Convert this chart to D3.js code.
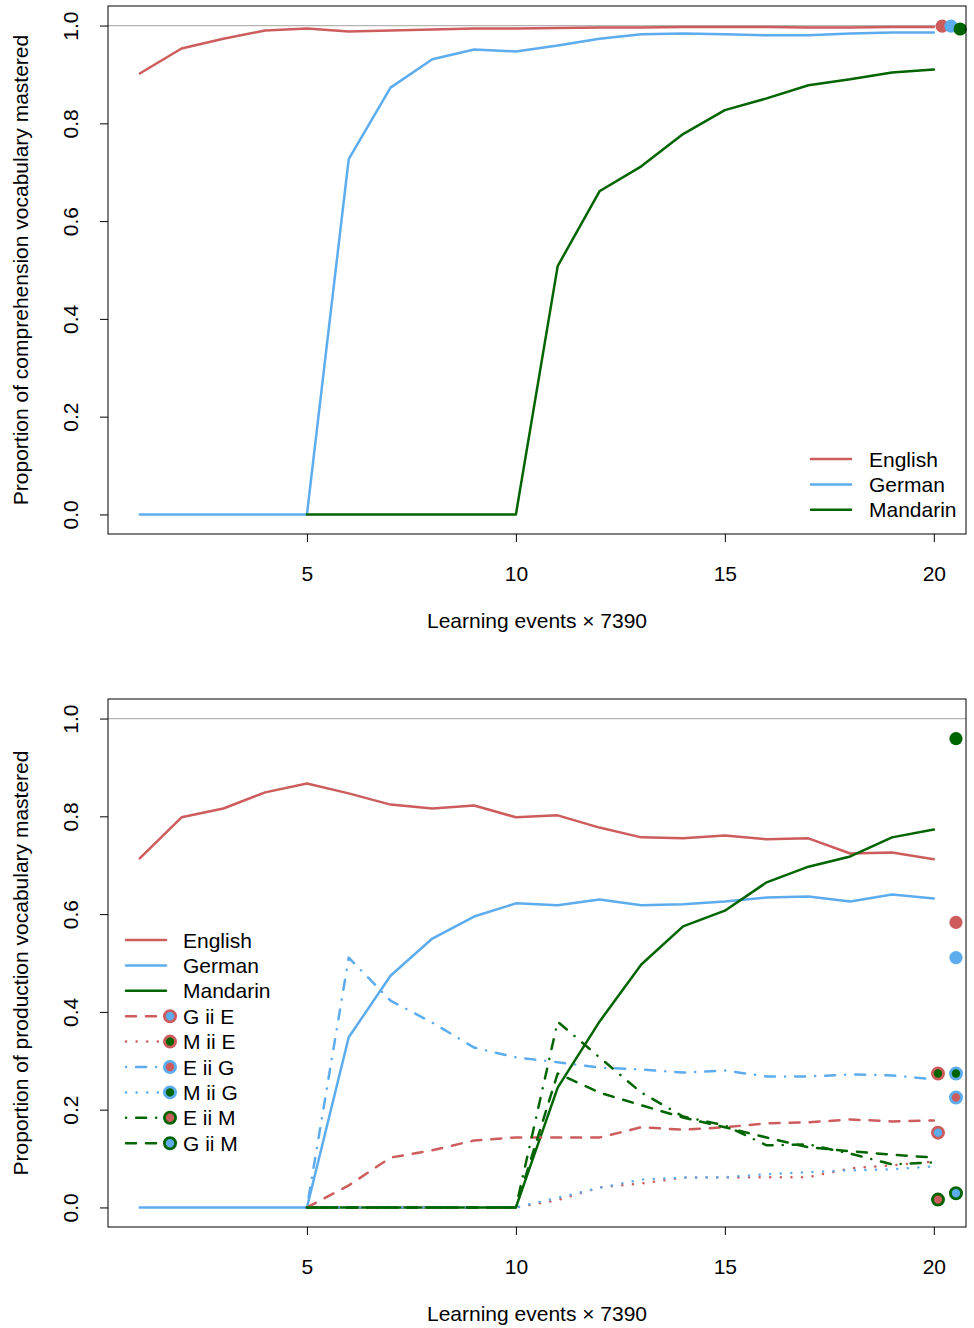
<!DOCTYPE html>
<html>
<head>
<meta charset="utf-8">
<script src="https://cdn.jsdelivr.net/npm/d3@7"></script>
<style>
  body { margin: 0; background: #fff; }
  svg { display: block; font-family: "Liberation Sans", Arial, sans-serif; }
</style>
</head>
<body>
<svg id="chart" width="974" height="1328"></svg>
<script>
// learning events (x axis, in units of 7390)
const events = [1, 2, 3, 4, 5, 6, 7, 8, 9, 10, 11, 12, 13, 14, 15, 16, 17, 18, 19, 20];
const yTicks = [0, 0.2, 0.4, 0.6, 0.8, 1.0];
const xTicks = [5, 10, 15, 20];

// comprehension (top panel)
const compEnglish = [0.902, 0.953, 0.973, 0.990, 0.994, 0.988, 0.990, 0.992, 0.994, 0.994, 0.995, 0.996, 0.996, 0.997, 0.997, 0.997, 0.996, 0.996, 0.997, 0.997];
const compGerman = [0, 0, 0, 0, 0, 0.727, 0.873, 0.931, 0.951, 0.947, 0.959, 0.973, 0.982, 0.984, 0.982, 0.980, 0.980, 0.984, 0.986, 0.986];
const compMandarin = [null, null, null, null, 0, 0, 0, 0, 0, 0, 0.508, 0.661, 0.712, 0.778, 0.827, 0.851, 0.878, 0.890, 0.904, 0.910];
const compFinal = [
  { x: 20.2, y: 0.999, lang: "E" },
  { x: 20.41, y: 0.999, lang: "G" },
  { x: 20.63, y: 0.993, lang: "M" }
];

// production (bottom panel)
const prodEnglish = [0.714, 0.798, 0.816, 0.849, 0.867, 0.847, 0.824, 0.816, 0.822, 0.798, 0.802, 0.777, 0.757, 0.755, 0.761, 0.753, 0.755, 0.724, 0.726, 0.712];
const prodGerman = [0, 0, 0, 0, 0, 0.348, 0.474, 0.550, 0.595, 0.622, 0.618, 0.630, 0.618, 0.620, 0.626, 0.634, 0.636, 0.626, 0.640, 0.632];
const prodMandarin = [null, null, null, null, 0, 0, 0, 0, 0, 0, 0.245, 0.380, 0.497, 0.575, 0.607, 0.665, 0.697, 0.718, 0.757, 0.773];
const GiiE = [null, null, null, null, 0, 0.045, 0.102, 0.117, 0.137, 0.143, 0.143, 0.143, 0.164, 0.159, 0.164, 0.172, 0.174, 0.180, 0.176, 0.178];
const MiiE = [null, null, null, null, 0, 0, 0, 0, 0, 0, 0.015, 0.041, 0.049, 0.061, 0.061, 0.062, 0.062, 0.080, 0.086, 0.094];
const EiiG = [null, null, null, null, 0, 0.511, 0.423, 0.378, 0.327, 0.307, 0.297, 0.286, 0.282, 0.276, 0.280, 0.268, 0.268, 0.272, 0.270, 0.262];
const MiiG = [null, null, null, null, 0, 0, 0, 0, 0, 0, 0.020, 0.040, 0.057, 0.061, 0.062, 0.068, 0.072, 0.076, 0.078, 0.084];
const EiiM = [null, null, null, null, 0, 0, 0, 0, 0, 0, 0.380, 0.307, 0.235, 0.186, 0.168, 0.127, 0.129, 0.110, 0.088, 0.092];
const GiiM = [null, null, null, null, 0, 0, 0, 0, 0, 0, 0.274, 0.235, 0.209, 0.184, 0.164, 0.143, 0.123, 0.115, 0.108, 0.102];
const prodFinal = [
  { x: 20.53, y: 0.959, lang: "M" },
  { x: 20.53, y: 0.583, lang: "E" },
  { x: 20.53, y: 0.511, lang: "G" },
  { x: 20.1, y: 0.274, ring: "E", fill: "M" },
  { x: 20.53, y: 0.274, ring: "G", fill: "M" },
  { x: 20.53, y: 0.225, ring: "G", fill: "E" },
  { x: 20.1, y: 0.153, ring: "E", fill: "G" },
  { x: 20.1, y: 0.016, ring: "M", fill: "E" },
  { x: 20.53, y: 0.029, ring: "M", fill: "G" }
];

const colors = { E: "#cd5c5c", G: "#5cacee", M: "#006400" };
const dashes = { solid: null, dashed: "10,10", dotted: "0.1,10.5", dotdash: "0.1,10,10,10" };
const LW = 2.5;
const FS = 21;

const svg = d3.select("#chart");

function panel(top, yTitle, series, finals, legend) {
  const left = 108, right = 966, bottom = top + 528;
  const x = d3.scaleLinear().domain([0.24, 20.77]).range([left, right]);
  const y = d3.scaleLinear().domain([-0.04, 1.04]).range([bottom, top]);
  const g = svg.append("g");

  // reference line at 1.0
  g.append("line")
    .attr("x1", left).attr("x2", right)
    .attr("y1", y(1)).attr("y2", y(1))
    .attr("stroke", "#b3b3b3").attr("stroke-width", 1.2);

  const line = d3.line()
    .defined(d => d[1] != null)
    .x(d => x(d[0])).y(d => y(d[1]));

  series.forEach(s => {
    g.append("path")
      .attr("d", line(events.map((e, i) => [e, s.values[i]])))
      .attr("fill", "none")
      .attr("stroke", colors[s.lang])
      .attr("stroke-width", LW)
      .attr("stroke-linecap", "round")
      .attr("stroke-linejoin", "round")
      .attr("stroke-dasharray", dashes[s.type]);
  });

  finals.forEach(p => {
    if (p.ring) {
      g.append("circle")
        .attr("cx", x(p.x)).attr("cy", y(p.y)).attr("r", 5.6)
        .attr("fill", colors[p.fill])
        .attr("stroke", colors[p.ring]).attr("stroke-width", 2.8);
    } else {
      g.append("circle")
        .attr("cx", x(p.x)).attr("cy", y(p.y)).attr("r", 6.6)
        .attr("fill", colors[p.lang]);
    }
  });

  // box
  g.append("rect")
    .attr("x", left).attr("y", top)
    .attr("width", right - left).attr("height", bottom - top)
    .attr("fill", "none").attr("stroke", "#000").attr("stroke-width", 1);

  // axes
  const ax = g.append("g").attr("transform", `translate(0,${bottom})`)
    .call(d3.axisBottom(x).tickValues(xTicks).tickFormat(d3.format("d")).tickSize(8));
  const ay = g.append("g").attr("transform", `translate(${left},0)`)
    .call(d3.axisLeft(y).tickValues(yTicks).tickFormat(d3.format(".1f")).tickSize(8));
  [ax, ay].forEach(a => {
    a.select(".domain").remove();
    a.selectAll("line").attr("stroke", "#000");
    a.selectAll("text").attr("font-size", FS).attr("fill", "#000")
      .attr("font-family", "Liberation Sans, Arial, sans-serif");
  });
  ax.selectAll("text").attr("dy", null).attr("y", 39).attr("dominant-baseline", "central");
  ay.selectAll("text")
    .attr("x", null).attr("dy", null)
    .attr("text-anchor", "middle")
    .attr("dominant-baseline", "central")
    .attr("transform", "translate(-38,0) rotate(-90)");

  g.append("text")
    .attr("x", (left + right) / 2).attr("y", bottom + 86)
    .attr("text-anchor", "middle").attr("dominant-baseline", "central")
    .attr("font-size", FS)
    .text("Learning events \u00d7 7390");
  g.append("text")
    .attr("transform", `translate(20,${(top + bottom) / 2}) rotate(-90)`)
    .attr("text-anchor", "middle").attr("dominant-baseline", "central")
    .attr("font-size", FS)
    .text(yTitle);

  // legend
  const lg = g.append("g").attr("transform", `translate(${legend.x},${legend.y})`);
  legend.items.forEach((it, i) => {
    const row = lg.append("g").attr("transform", `translate(0,${i * 25.4})`);
    row.append("line")
      .attr("x1", 0).attr("x2", it.ring ? 35 : 40)
      .attr("stroke", colors[it.lang]).attr("stroke-width", LW)
      .attr("stroke-linecap", "round")
      .attr("stroke-dasharray", dashes[it.type]);
    if (it.ring) {
      row.append("circle").attr("cx", 44).attr("r", 5.6)
        .attr("fill", colors[it.fill])
        .attr("stroke", colors[it.ring]).attr("stroke-width", 2.8);
    }
    row.append("text")
      .attr("x", legend.textX).attr("dominant-baseline", "central")
      .attr("font-size", FS).text(it.label);
  });
}

panel(6, "Proportion of comprehension vocabulary mastered",
  [
    { lang: "E", type: "solid", values: compEnglish },
    { lang: "G", type: "solid", values: compGerman },
    { lang: "M", type: "solid", values: compMandarin }
  ],
  compFinal,
  {
    x: 811, y: 459, textX: 58,
    items: [
      { label: "English", lang: "E", type: "solid" },
      { label: "German", lang: "G", type: "solid" },
      { label: "Mandarin", lang: "M", type: "solid" }
    ]
  });

panel(699, "Proportion of production vocabulary mastered",
  [
    { lang: "E", type: "solid", values: prodEnglish },
    { lang: "G", type: "solid", values: prodGerman },
    { lang: "M", type: "solid", values: prodMandarin },
    { lang: "E", type: "dashed", values: GiiE },
    { lang: "E", type: "dotted", values: MiiE },
    { lang: "G", type: "dotdash", values: EiiG },
    { lang: "G", type: "dotted", values: MiiG },
    { lang: "M", type: "dotdash", values: EiiM },
    { lang: "M", type: "dashed", values: GiiM }
  ],
  prodFinal,
  {
    x: 126, y: 940, textX: 57,
    items: [
      { label: "English", lang: "E", type: "solid" },
      { label: "German", lang: "G", type: "solid" },
      { label: "Mandarin", lang: "M", type: "solid" },
      { label: "G ii E", lang: "E", type: "dashed", ring: "E", fill: "G" },
      { label: "M ii E", lang: "E", type: "dotted", ring: "E", fill: "M" },
      { label: "E ii G", lang: "G", type: "dotdash", ring: "G", fill: "E" },
      { label: "M ii G", lang: "G", type: "dotted", ring: "G", fill: "M" },
      { label: "E ii M", lang: "M", type: "dotdash", ring: "M", fill: "E" },
      { label: "G ii M", lang: "M", type: "dashed", ring: "M", fill: "G" }
    ]
  });
</script>
</body>
</html>
